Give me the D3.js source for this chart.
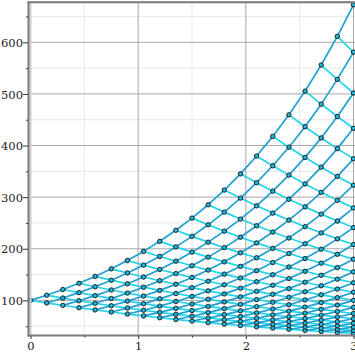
<!DOCTYPE html>
<html>
<head>
<meta charset="utf-8">
<script src="https://cdn.jsdelivr.net/npm/d3@7"></script>
<style>
  body { margin: 0; background: #fff; }
  svg { display: block; }
  .tick text { font-family: "DejaVu Serif", serif; font-size: 11.5px; fill: #222; }
</style>
</head>
<body>
<svg width="355" height="355"></svg>
<script>
// time of each step of the tree
var times = [0, 0.15, 0.3, 0.45, 0.6, 0.75, 0.9, 1.05, 1.2, 1.35, 1.5,
             1.65, 1.8, 1.95, 2.1, 2.25, 2.4, 2.55, 2.7, 2.85, 3];

// node values at each step, lowest to highest
var s0  = [100];
var s1  = [95, 110];
var s2  = [90.3, 104.5, 121];
var s3  = [85.7, 99.3, 115.0, 133.1];
var s4  = [81.5, 94.3, 109.2, 126.4, 146.4];
var s5  = [77.4, 89.6, 103.7, 120.1, 139.1, 161.1];
var s6  = [73.5, 85.1, 98.6, 114.1, 132.1, 153.0, 177.2];
var s7  = [69.8, 80.9, 93.6, 108.4, 125.5, 145.3, 168.3, 194.9];
var s8  = [66.3, 76.8, 88.9, 103.0, 119.3, 138.1, 159.9, 185.1, 214.4];
var s9  = [63.0, 73.0, 84.5, 97.8, 113.3, 131.2, 151.9, 175.9, 203.6, 235.8];
var s10 = [59.9, 69.3, 80.3, 92.9, 107.6, 124.6, 144.3, 167.1, 193.5, 224.0, 259.4];
var s11 = [56.9, 65.9, 76.3, 88.3, 102.2, 118.4, 137.1, 158.7, 183.8, 212.8, 246.4, 285.3];
var s12 = [54.0, 62.6, 72.4, 83.9, 97.1, 112.5, 130.2, 150.8, 174.6, 202.2, 234.1, 271.0, 313.8];
var s13 = [51.3, 59.4, 68.8, 79.7, 92.3, 106.8, 123.7, 143.2, 165.9, 192.1, 222.4, 257.5, 298.2, 345.2];
var s14 = [48.8, 56.5, 65.4, 75.7, 87.7, 101.5, 117.5, 136.1, 157.6, 182.5, 211.3, 244.6, 283.2, 328.0, 379.7];
var s15 = [46.3, 53.6, 62.1, 71.9, 83.3, 96.4, 111.7, 129.3, 149.7, 173.3, 200.7, 232.4, 269.1, 311.6, 360.8, 417.7];
var s16 = [44.0, 51.0, 59.0, 68.3, 79.1, 91.6, 106.1, 122.8, 142.2, 164.7, 190.7, 220.8, 255.6, 296.0, 342.7, 396.8, 459.5];
var s17 = [41.8, 48.4, 56.1, 64.9, 75.2, 87.0, 100.8, 116.7, 135.1, 156.4, 181.1, 209.7, 242.8, 281.2, 325.6, 377.0, 436.5, 505.4];
var s18 = [39.7, 46.0, 53.3, 61.7, 71.4, 82.7, 95.7, 110.8, 128.3, 148.6, 172.1, 199.2, 230.7, 267.1, 309.3, 358.1, 414.7, 480.2, 556.0];
var s19 = [37.7, 43.7, 50.6, 58.6, 67.8, 78.5, 90.9, 105.3, 121.9, 141.2, 163.5, 189.3, 219.2, 253.8, 293.8, 340.2, 394.0, 456.2, 528.2, 611.6];
var s20 = [35.8, 41.5, 48.1, 55.7, 64.4, 74.6, 86.4, 100.0, 115.8, 134.1, 155.3, 179.8, 208.2, 241.1, 279.2, 323.2, 374.3, 433.4, 501.8, 581.0, 672.7];
var steps = [s0, s1, s2, s3, s4, s5, s6, s7, s8, s9, s10, s11, s12, s13, s14, s15, s16, s17, s18, s19, s20];

// axis ticks
var xTicks = [0, 1, 2, 3];
var xMinor = [0.5, 1.5, 2.5];
var yTicks = [100, 200, 300, 400, 500, 600];
var yMinor = [50, 150, 250, 350, 450, 550, 650];

var svg = d3.select("svg");
var pLeft = 28.5, pRight = 355.5, pTop = 2.8, pBottom = 335.5, pad = 2;

var allVals = [].concat.apply([], steps);
var x = d3.scaleLinear().domain([d3.min(times), d3.max(times)]).range([pLeft + pad, pRight - pad]);
var y = d3.scaleLinear().domain([d3.min(allVals), d3.max(allVals)]).range([pBottom - pad, pTop + pad]);

// grid
var grid = svg.append("g");
grid.selectAll(".gym").data(yMinor).enter().append("line")
  .attr("x1", pLeft).attr("x2", pRight)
  .attr("y1", function(d) { return y(d); }).attr("y2", function(d) { return y(d); })
  .attr("stroke", "#e8e8e8").attr("stroke-width", 1);
grid.selectAll(".gxm").data(xMinor).enter().append("line")
  .attr("y1", pTop).attr("y2", pBottom)
  .attr("x1", function(d) { return x(d); }).attr("x2", function(d) { return x(d); })
  .attr("stroke", "#e8e8e8").attr("stroke-width", 1);
grid.selectAll(".gy").data(yTicks).enter().append("line")
  .attr("x1", pLeft).attr("x2", pRight)
  .attr("y1", function(d) { return y(d); }).attr("y2", function(d) { return y(d); })
  .attr("stroke", "#a8a8a8").attr("stroke-width", 1);
grid.selectAll(".gx").data(xTicks).enter().append("line")
  .attr("y1", pTop).attr("y2", pBottom)
  .attr("x1", function(d) { return x(d); }).attr("x2", function(d) { return x(d); })
  .attr("stroke", "#a8a8a8").attr("stroke-width", 1);

// segments of the tree
var ups = [], downs = [];
for (var i = 0; i < steps.length - 1; i++) {
  for (var j = 0; j < steps[i].length; j++) {
    downs.push({t0: times[i], v0: steps[i][j], t1: times[i + 1], v1: steps[i + 1][j]});
    ups.push({t0: times[i], v0: steps[i][j], t1: times[i + 1], v1: steps[i + 1][j + 1]});
  }
}

svg.append("g").selectAll("line").data(downs).enter().append("line")
  .attr("x1", function(d) { return x(d.t0); }).attr("y1", function(d) { return y(d.v0); })
  .attr("x2", function(d) { return x(d.t1); }).attr("y2", function(d) { return y(d.v1); })
  .attr("stroke", "#22d4ea").attr("stroke-width", 1.7);
svg.append("g").selectAll("line").data(ups).enter().append("line")
  .attr("x1", function(d) { return x(d.t0); }).attr("y1", function(d) { return y(d.v0); })
  .attr("x2", function(d) { return x(d.t1); }).attr("y2", function(d) { return y(d.v1); })
  .attr("stroke", "#1ea0d2").attr("stroke-width", 1.7);

// nodes
var nodes = [];
steps.forEach(function(row, i) {
  row.forEach(function(v) { nodes.push({t: times[i], v: v}); });
});
svg.append("g").selectAll("circle").data(nodes).enter().append("circle")
  .attr("cx", function(d) { return x(d.t); })
  .attr("cy", function(d) { return y(d.v); })
  .attr("r", 2.2)
  .attr("fill", "#2ab2d2")
  .attr("stroke", "#111").attr("stroke-width", 0.9);

// frame
svg.append("rect").attr("x", pLeft + 1).attr("y", pTop).attr("width", 2).attr("height", pBottom - pTop)
  .attr("fill", "#cfcfcf");
svg.append("line").attr("x1", pLeft - 1).attr("x2", pRight).attr("y1", pTop - 0.5).attr("y2", pTop - 0.5)
  .attr("stroke", "#7a7a7a").attr("stroke-width", 2);
svg.append("line").attr("x1", pLeft).attr("x2", pLeft).attr("y1", pTop - 1.5).attr("y2", pBottom + 1)
  .attr("stroke", "#7a7a7a").attr("stroke-width", 2);
svg.append("line").attr("x1", pLeft - 1).attr("x2", pRight).attr("y1", pBottom).attr("y2", pBottom)
  .attr("stroke", "#7a7a7a").attr("stroke-width", 2);

// axes
var yAxis = svg.append("g").attr("transform", "translate(" + (pLeft - 0.5) + ",0)")
  .call(d3.axisLeft(y).tickValues(yTicks).tickSize(5).tickPadding(0).tickFormat(d3.format("d")));
yAxis.select(".domain").remove();
yAxis.selectAll(".tick line").attr("stroke", "#333");
yAxis.selectAll(".tick text").attr("dy", "0.36em");

var yAxisMinor = svg.append("g").attr("transform", "translate(" + (pLeft - 0.5) + ",0)")
  .call(d3.axisLeft(y).tickValues(yMinor).tickSize(2).tickFormat(""));
yAxisMinor.select(".domain").remove();
yAxisMinor.selectAll(".tick line").attr("stroke", "#333");

var xAxis = svg.append("g").attr("transform", "translate(0," + (pBottom + 0.5) + ")")
  .call(d3.axisBottom(x).tickValues(xTicks).tickSize(3).tickPadding(3).tickFormat(d3.format("d")));
xAxis.select(".domain").remove();
xAxis.selectAll(".tick line").attr("stroke", "#333");

var xAxisMinor = svg.append("g").attr("transform", "translate(0," + (pBottom + 0.5) + ")")
  .call(d3.axisBottom(x).tickValues(xMinor).tickSize(1.5).tickFormat(""));
xAxisMinor.select(".domain").remove();
xAxisMinor.selectAll(".tick line").attr("stroke", "#333");
</script>
</body>
</html>
